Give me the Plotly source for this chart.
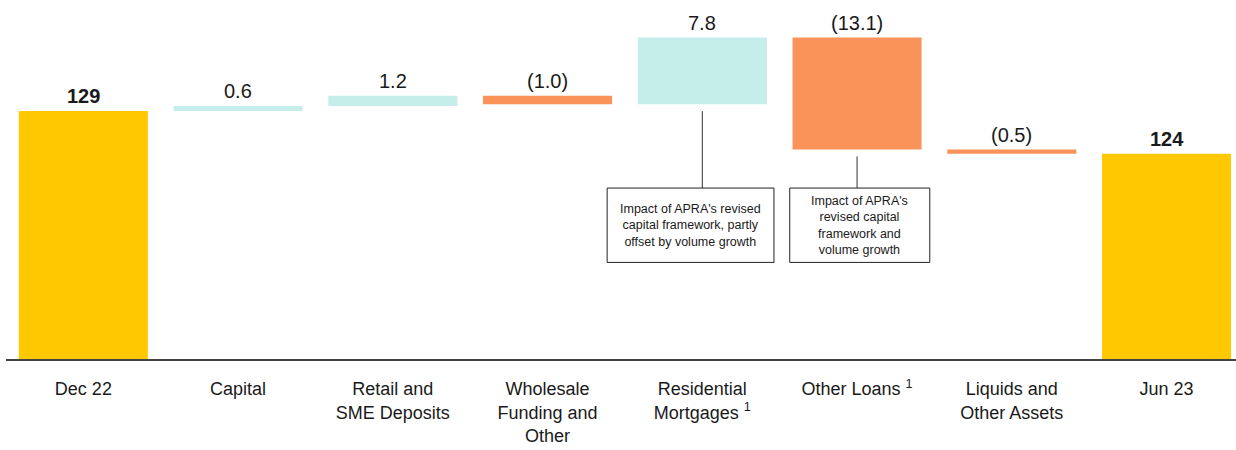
import plotly.graph_objects as go

# Funding movement, Dec 22 to Jun 23
categories = ["Dec 22", "Capital", "Retail and SME Deposits", "Wholesale Funding and Other",
              "Residential Mortgages", "Other Loans", "Liquids and Other Assets", "Jun 23"]
tick_labels = ["Dec 22", "Capital", "Retail and<br>SME Deposits", "Wholesale<br>Funding and<br>Other",
               "Residential<br>Mortgages <sup>1</sup>", "Other Loans <sup>1</sup>",
               "Liquids and<br>Other Assets", "Jun 23"]
values = [129, 0.6, 1.2, -1.0, 7.8, -13.1, -0.5, 124]
measures = ["absolute", "relative", "relative", "relative", "relative", "relative", "relative", "total"]

callout_texts = {
    4: "Impact of APRA's revised<br>capital framework, partly<br>offset by volume growth",
    5: "Impact of APRA's<br>revised capital<br>framework and<br>volume growth",
}

YELLOW = "#FFC800"
TEAL = "#C5EDE9"
ORANGE = "#F9935A"
TEXT = "#1a1a1a"
FONT = "Liberation Sans, Arial, sans-serif"

xs = list(range(len(categories)))

fig = go.Figure(go.Waterfall(
    x=xs,
    y=values,
    measure=measures,
    width=0.834,
    increasing=dict(marker=dict(color=TEAL, line=dict(width=0))),
    decreasing=dict(marker=dict(color=ORANGE, line=dict(width=0))),
    totals=dict(marker=dict(color=YELLOW, line=dict(width=0))),
    connector=dict(visible=False),
    hoverinfo="skip",
))

# Bar extents from the running total
tops, bottoms = [], []
running = 0.0
for v, m in zip(values, measures):
    if m == "absolute":
        lo, hi = 0.0, v
        running = v
    elif m == "total":
        lo, hi = 0.0, running
    else:
        start = running
        running = running + v
        lo, hi = min(start, running), max(start, running)
    tops.append(hi)
    bottoms.append(lo)


def fmt(v, m):
    if m in ("absolute", "total"):
        return f"<b>{v:.0f}</b>"
    return f"({abs(v):.1f})" if v < 0 else f"{v:.1f}"


for i, (v, m) in enumerate(zip(values, measures)):
    shown = tops[i] if m == "total" else v
    fig.add_annotation(x=i, y=tops[i], text=fmt(shown, m), showarrow=False,
                       yanchor="bottom", yshift=2,
                       font=dict(family=FONT, size=20, color=TEXT))

# Callout boxes with leader lines from the bar bottoms
box_extent = {4: (-0.615, 0.463), 5: (-0.435, 0.47)}
box_top, box_bottom = 120.0, 111.3
for i, txt in callout_texts.items():
    left, right = box_extent[i]
    fig.add_shape(type="line", x0=i, x1=i, y0=bottoms[i] - 0.8, y1=box_top,
                  line=dict(color="#333333", width=1))
    fig.add_shape(type="rect", x0=i + left, x1=i + right, y0=box_bottom, y1=box_top,
                  line=dict(color="#222222", width=1), fillcolor="white")
    fig.add_annotation(x=i + (left + right) / 2, y=(box_top + box_bottom) / 2, text=txt,
                       showarrow=False, align="center",
                       font=dict(family=FONT, size=12.5, color=TEXT))

fig.update_layout(
    width=1236, height=450,
    margin=dict(l=6, r=0, t=0, b=91),
    paper_bgcolor="white", plot_bgcolor="white",
    showlegend=False,
    xaxis=dict(range=[-0.5, 7.449], tickvals=xs, ticktext=tick_labels,
               showgrid=False, zeroline=False, showline=True,
               linecolor="#444444", linewidth=1.5, ticks="",
               ticklabelstandoff=13,
               tickfont=dict(family=FONT, size=18, color=TEXT)),
    yaxis=dict(range=[100, 142], visible=False, showgrid=False, zeroline=False),
)

fig.write_html("out.html")
